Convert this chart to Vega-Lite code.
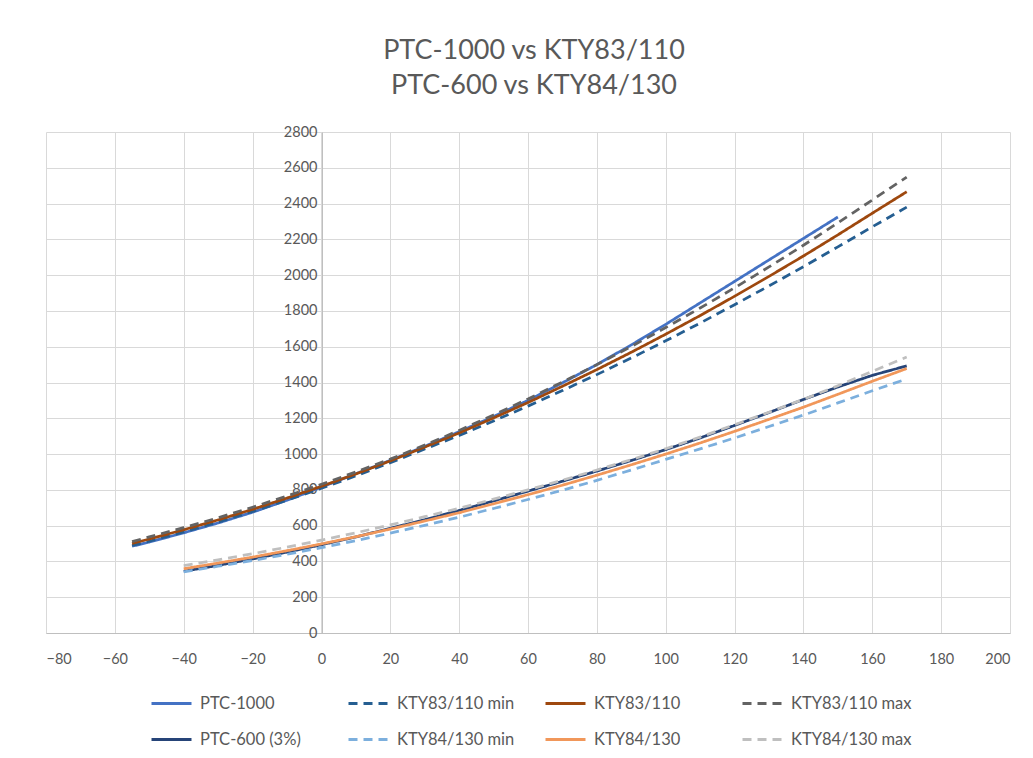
{
  "$schema": "https://vega.github.io/schema/vega-lite/v6.json",
  "width": 964,
  "height": 501,
  "autosize": {"type": "none"},
  "padding": {"left": 46, "top": 132, "right": 23, "bottom": 125},
  "background": "white",
  "config": {"view": {"stroke": null}},
  "title": {
    "text": ["PTC-1000 vs KTY83/110", "PTC-600 vs KTY84/130"],
    "font": "Lato",
    "fontSize": 27,
    "fontWeight": "normal",
    "color": "#595959",
    "lineHeight": 35,
    "offset": 24,
    "anchor": "middle",
    "dx": 6
  },
  "data": {
    "values": [
      {"t": -55, "r": 485, "s": "PTC-1000"},
      {"t": -50, "r": 508, "s": "PTC-1000"},
      {"t": -40, "r": 560, "s": "PTC-1000"},
      {"t": -30, "r": 615, "s": "PTC-1000"},
      {"t": -20, "r": 675, "s": "PTC-1000"},
      {"t": -10, "r": 742, "s": "PTC-1000"},
      {"t": 0, "r": 815, "s": "PTC-1000"},
      {"t": 10, "r": 890, "s": "PTC-1000"},
      {"t": 20, "r": 965, "s": "PTC-1000"},
      {"t": 30, "r": 1043, "s": "PTC-1000"},
      {"t": 40, "r": 1125, "s": "PTC-1000"},
      {"t": 50, "r": 1210, "s": "PTC-1000"},
      {"t": 60, "r": 1300, "s": "PTC-1000"},
      {"t": 70, "r": 1398, "s": "PTC-1000"},
      {"t": 80, "r": 1500, "s": "PTC-1000"},
      {"t": 90, "r": 1610, "s": "PTC-1000"},
      {"t": 100, "r": 1725, "s": "PTC-1000"},
      {"t": 110, "r": 1845, "s": "PTC-1000"},
      {"t": 120, "r": 1965, "s": "PTC-1000"},
      {"t": 130, "r": 2085, "s": "PTC-1000"},
      {"t": 140, "r": 2205, "s": "PTC-1000"},
      {"t": 150, "r": 2325, "s": "PTC-1000"},

      {"t": -55, "r": 489, "s": "KTY83/110 min"},
      {"t": -50, "r": 513, "s": "KTY83/110 min"},
      {"t": -40, "r": 565, "s": "KTY83/110 min"},
      {"t": -30, "r": 620, "s": "KTY83/110 min"},
      {"t": -20, "r": 679, "s": "KTY83/110 min"},
      {"t": -10, "r": 742, "s": "KTY83/110 min"},
      {"t": 0, "r": 809, "s": "KTY83/110 min"},
      {"t": 10, "r": 878, "s": "KTY83/110 min"},
      {"t": 20, "r": 952, "s": "KTY83/110 min"},
      {"t": 30, "r": 1028, "s": "KTY83/110 min"},
      {"t": 40, "r": 1104, "s": "KTY83/110 min"},
      {"t": 50, "r": 1185, "s": "KTY83/110 min"},
      {"t": 60, "r": 1268, "s": "KTY83/110 min"},
      {"t": 70, "r": 1355, "s": "KTY83/110 min"},
      {"t": 80, "r": 1444, "s": "KTY83/110 min"},
      {"t": 90, "r": 1537, "s": "KTY83/110 min"},
      {"t": 100, "r": 1633, "s": "KTY83/110 min"},
      {"t": 110, "r": 1732, "s": "KTY83/110 min"},
      {"t": 120, "r": 1835, "s": "KTY83/110 min"},
      {"t": 130, "r": 1940, "s": "KTY83/110 min"},
      {"t": 140, "r": 2047, "s": "KTY83/110 min"},
      {"t": 150, "r": 2158, "s": "KTY83/110 min"},
      {"t": 160, "r": 2270, "s": "KTY83/110 min"},
      {"t": 170, "r": 2380, "s": "KTY83/110 min"},

      {"t": -55, "r": 500, "s": "KTY83/110"},
      {"t": -50, "r": 525, "s": "KTY83/110"},
      {"t": -40, "r": 577, "s": "KTY83/110"},
      {"t": -30, "r": 632, "s": "KTY83/110"},
      {"t": -20, "r": 691, "s": "KTY83/110"},
      {"t": -10, "r": 754, "s": "KTY83/110"},
      {"t": 0, "r": 820, "s": "KTY83/110"},
      {"t": 10, "r": 889, "s": "KTY83/110"},
      {"t": 20, "r": 962, "s": "KTY83/110"},
      {"t": 30, "r": 1039, "s": "KTY83/110"},
      {"t": 40, "r": 1118, "s": "KTY83/110"},
      {"t": 50, "r": 1202, "s": "KTY83/110"},
      {"t": 60, "r": 1288, "s": "KTY83/110"},
      {"t": 70, "r": 1379, "s": "KTY83/110"},
      {"t": 80, "r": 1472, "s": "KTY83/110"},
      {"t": 90, "r": 1569, "s": "KTY83/110"},
      {"t": 100, "r": 1670, "s": "KTY83/110"},
      {"t": 110, "r": 1774, "s": "KTY83/110"},
      {"t": 120, "r": 1882, "s": "KTY83/110"},
      {"t": 130, "r": 1993, "s": "KTY83/110"},
      {"t": 140, "r": 2107, "s": "KTY83/110"},
      {"t": 150, "r": 2225, "s": "KTY83/110"},
      {"t": 160, "r": 2346, "s": "KTY83/110"},
      {"t": 170, "r": 2466, "s": "KTY83/110"},

      {"t": -55, "r": 511, "s": "KTY83/110 max"},
      {"t": -50, "r": 537, "s": "KTY83/110 max"},
      {"t": -40, "r": 589, "s": "KTY83/110 max"},
      {"t": -30, "r": 644, "s": "KTY83/110 max"},
      {"t": -20, "r": 703, "s": "KTY83/110 max"},
      {"t": -10, "r": 766, "s": "KTY83/110 max"},
      {"t": 0, "r": 831, "s": "KTY83/110 max"},
      {"t": 10, "r": 900, "s": "KTY83/110 max"},
      {"t": 20, "r": 972, "s": "KTY83/110 max"},
      {"t": 30, "r": 1050, "s": "KTY83/110 max"},
      {"t": 40, "r": 1132, "s": "KTY83/110 max"},
      {"t": 50, "r": 1219, "s": "KTY83/110 max"},
      {"t": 60, "r": 1308, "s": "KTY83/110 max"},
      {"t": 70, "r": 1403, "s": "KTY83/110 max"},
      {"t": 80, "r": 1500, "s": "KTY83/110 max"},
      {"t": 90, "r": 1601, "s": "KTY83/110 max"},
      {"t": 100, "r": 1707, "s": "KTY83/110 max"},
      {"t": 110, "r": 1816, "s": "KTY83/110 max"},
      {"t": 120, "r": 1929, "s": "KTY83/110 max"},
      {"t": 130, "r": 2046, "s": "KTY83/110 max"},
      {"t": 140, "r": 2167, "s": "KTY83/110 max"},
      {"t": 150, "r": 2292, "s": "KTY83/110 max"},
      {"t": 160, "r": 2420, "s": "KTY83/110 max"},
      {"t": 170, "r": 2548, "s": "KTY83/110 max"},

      {"t": -40, "r": 345, "s": "PTC-600 (3%)"},
      {"t": -30, "r": 378, "s": "PTC-600 (3%)"},
      {"t": -20, "r": 414, "s": "PTC-600 (3%)"},
      {"t": -10, "r": 452, "s": "PTC-600 (3%)"},
      {"t": 0, "r": 493, "s": "PTC-600 (3%)"},
      {"t": 10, "r": 537, "s": "PTC-600 (3%)"},
      {"t": 20, "r": 585, "s": "PTC-600 (3%)"},
      {"t": 30, "r": 633, "s": "PTC-600 (3%)"},
      {"t": 40, "r": 685, "s": "PTC-600 (3%)"},
      {"t": 50, "r": 738, "s": "PTC-600 (3%)"},
      {"t": 60, "r": 793, "s": "PTC-600 (3%)"},
      {"t": 70, "r": 848, "s": "PTC-600 (3%)"},
      {"t": 80, "r": 905, "s": "PTC-600 (3%)"},
      {"t": 90, "r": 964, "s": "PTC-600 (3%)"},
      {"t": 100, "r": 1025, "s": "PTC-600 (3%)"},
      {"t": 110, "r": 1090, "s": "PTC-600 (3%)"},
      {"t": 120, "r": 1160, "s": "PTC-600 (3%)"},
      {"t": 130, "r": 1232, "s": "PTC-600 (3%)"},
      {"t": 140, "r": 1305, "s": "PTC-600 (3%)"},
      {"t": 150, "r": 1375, "s": "PTC-600 (3%)"},
      {"t": 160, "r": 1440, "s": "PTC-600 (3%)"},
      {"t": 170, "r": 1493, "s": "PTC-600 (3%)"},

      {"t": -40, "r": 342, "s": "KTY84/130 min"},
      {"t": -30, "r": 373, "s": "KTY84/130 min"},
      {"t": -20, "r": 405, "s": "KTY84/130 min"},
      {"t": -10, "r": 440, "s": "KTY84/130 min"},
      {"t": 0, "r": 477, "s": "KTY84/130 min"},
      {"t": 10, "r": 516, "s": "KTY84/130 min"},
      {"t": 20, "r": 558, "s": "KTY84/130 min"},
      {"t": 30, "r": 602, "s": "KTY84/130 min"},
      {"t": 40, "r": 647, "s": "KTY84/130 min"},
      {"t": 50, "r": 696, "s": "KTY84/130 min"},
      {"t": 60, "r": 746, "s": "KTY84/130 min"},
      {"t": 70, "r": 798, "s": "KTY84/130 min"},
      {"t": 80, "r": 853, "s": "KTY84/130 min"},
      {"t": 90, "r": 911, "s": "KTY84/130 min"},
      {"t": 100, "r": 970, "s": "KTY84/130 min"},
      {"t": 110, "r": 1029, "s": "KTY84/130 min"},
      {"t": 120, "r": 1090, "s": "KTY84/130 min"},
      {"t": 130, "r": 1154, "s": "KTY84/130 min"},
      {"t": 140, "r": 1218, "s": "KTY84/130 min"},
      {"t": 150, "r": 1286, "s": "KTY84/130 min"},
      {"t": 160, "r": 1354, "s": "KTY84/130 min"},
      {"t": 170, "r": 1420, "s": "KTY84/130 min"},

      {"t": -40, "r": 359, "s": "KTY84/130"},
      {"t": -30, "r": 391, "s": "KTY84/130"},
      {"t": -20, "r": 424, "s": "KTY84/130"},
      {"t": -10, "r": 460, "s": "KTY84/130"},
      {"t": 0, "r": 498, "s": "KTY84/130"},
      {"t": 10, "r": 538, "s": "KTY84/130"},
      {"t": 20, "r": 581, "s": "KTY84/130"},
      {"t": 30, "r": 626, "s": "KTY84/130"},
      {"t": 40, "r": 672, "s": "KTY84/130"},
      {"t": 50, "r": 722, "s": "KTY84/130"},
      {"t": 60, "r": 773, "s": "KTY84/130"},
      {"t": 70, "r": 826, "s": "KTY84/130"},
      {"t": 80, "r": 882, "s": "KTY84/130"},
      {"t": 90, "r": 940, "s": "KTY84/130"},
      {"t": 100, "r": 1000, "s": "KTY84/130"},
      {"t": 110, "r": 1062, "s": "KTY84/130"},
      {"t": 120, "r": 1127, "s": "KTY84/130"},
      {"t": 130, "r": 1194, "s": "KTY84/130"},
      {"t": 140, "r": 1262, "s": "KTY84/130"},
      {"t": 150, "r": 1334, "s": "KTY84/130"},
      {"t": 160, "r": 1407, "s": "KTY84/130"},
      {"t": 170, "r": 1478, "s": "KTY84/130"},

      {"t": -40, "r": 376, "s": "KTY84/130 max"},
      {"t": -30, "r": 409, "s": "KTY84/130 max"},
      {"t": -20, "r": 443, "s": "KTY84/130 max"},
      {"t": -10, "r": 480, "s": "KTY84/130 max"},
      {"t": 0, "r": 519, "s": "KTY84/130 max"},
      {"t": 10, "r": 560, "s": "KTY84/130 max"},
      {"t": 20, "r": 604, "s": "KTY84/130 max"},
      {"t": 30, "r": 650, "s": "KTY84/130 max"},
      {"t": 40, "r": 697, "s": "KTY84/130 max"},
      {"t": 50, "r": 748, "s": "KTY84/130 max"},
      {"t": 60, "r": 800, "s": "KTY84/130 max"},
      {"t": 70, "r": 854, "s": "KTY84/130 max"},
      {"t": 80, "r": 911, "s": "KTY84/130 max"},
      {"t": 90, "r": 969, "s": "KTY84/130 max"},
      {"t": 100, "r": 1030, "s": "KTY84/130 max"},
      {"t": 110, "r": 1095, "s": "KTY84/130 max"},
      {"t": 120, "r": 1164, "s": "KTY84/130 max"},
      {"t": 130, "r": 1234, "s": "KTY84/130 max"},
      {"t": 140, "r": 1306, "s": "KTY84/130 max"},
      {"t": 150, "r": 1382, "s": "KTY84/130 max"},
      {"t": 160, "r": 1462, "s": "KTY84/130 max"},
      {"t": 170, "r": 1542, "s": "KTY84/130 max"}
    ]
  },
  "mark": {"type": "line", "strokeWidth": 2.75, "strokeJoin": "round"},
  "encoding": {
    "x": {
      "field": "t",
      "type": "quantitative",
      "scale": {"domain": [-80, 200], "nice": false, "zero": false},
      "axis": {
        "title": null,
        "values": [-80, -60, -40, -20, 0, 20, 40, 60, 80, 100, 120, 140, 160, 180, 200],
        "format": "d",
        "grid": true,
        "gridColor": "#D9D9D9",
        "gridWidth": 1,
        "domainColor": "#BFBFBF",
        "domainWidth": 1,
        "ticks": false,
        "tickSize": 0,
        "labelPadding": 19,
        "labelFont": "Lato",
        "labelFontSize": 14.5,
        "labelColor": "#595959"
      }
    },
    "y": {
      "field": "r",
      "type": "quantitative",
      "scale": {"domain": [0, 2800], "nice": false},
      "axis": {
        "title": null,
        "offset": -276,
        "values": [0, 200, 400, 600, 800, 1000, 1200, 1400, 1600, 1800, 2000, 2200, 2400, 2600, 2800],
        "format": "d",
        "grid": true,
        "gridColor": "#D9D9D9",
        "gridWidth": 1,
        "domainColor": "#BFBFBF",
        "domainWidth": 1,
        "ticks": false,
        "tickSize": 0,
        "labelPadding": 5,
        "labelFont": "Lato",
        "labelFontSize": 14.5,
        "labelColor": "#595959"
      }
    },
    "color": {
      "field": "s",
      "type": "nominal",
      "scale": {
        "domain": ["PTC-1000", "KTY83/110 min", "KTY83/110", "KTY83/110 max", "PTC-600 (3%)", "KTY84/130 min", "KTY84/130", "KTY84/130 max"],
        "range": ["#4472C4", "#255E91", "#9E480E", "#636363", "#264478", "#7CAFDD", "#F1975A", "#BFBFBF"]
      },
      "legend": {
        "title": null,
        "orient": "none",
        "legendX": 104,
        "legendY": 550,
        "columns": 4,
        "direction": "horizontal",
        "gridAlign": "all",
        "columnPadding": 21,
        "rowPadding": 6,
        "symbolType": "stroke",
        "symbolSize": 1600,
        "symbolStrokeWidth": 3,
        "labelOffset": 7,
        "labelFont": "Lato",
        "labelFontSize": 16.5,
        "labelColor": "#595959",
        "labelLimit": 250
      }
    },
    "strokeDash": {
      "field": "s",
      "type": "nominal",
      "scale": {
        "domain": ["PTC-1000", "KTY83/110 min", "KTY83/110", "KTY83/110 max", "PTC-600 (3%)", "KTY84/130 min", "KTY84/130", "KTY84/130 max"],
        "range": [[1, 0], [9, 6], [1, 0], [9, 6], [1, 0], [9, 6], [1, 0], [9, 6]]
      },
      "legend": {
        "title": null,
        "orient": "none",
        "legendX": 104,
        "legendY": 550,
        "columns": 4,
        "direction": "horizontal",
        "gridAlign": "all",
        "columnPadding": 21,
        "rowPadding": 6,
        "symbolType": "stroke",
        "symbolSize": 1600,
        "symbolStrokeWidth": 3,
        "labelOffset": 7,
        "labelFont": "Lato",
        "labelFontSize": 16.5,
        "labelColor": "#595959",
        "labelLimit": 250
      }
    }
  }
}
